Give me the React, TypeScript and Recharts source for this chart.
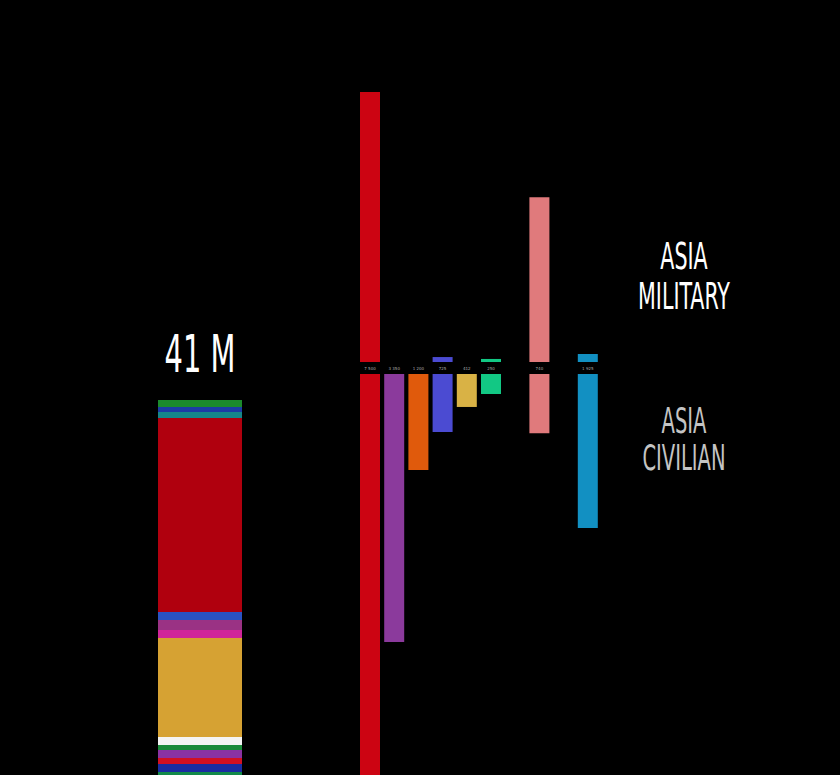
import { BarChart, Bar, XAxis, YAxis, Cell, LabelList } from 'recharts'

// Asia, deaths in thousands
const slots = ['CN', 'ID', 'VN', 'PH', 'KR', 'MY', '', 'JP', '', 'IN']
const military = [3375, 0, 0, 62, 0, 38, 0, 2060, 0, 100]
const civilian = [7500, 3350, 1200, 725, 412, 250, 0, 740, 0, 1925]
const colors = ['#cc0412', '#8b3a9c', '#e05a0c', '#4b4bd2', '#d9b245', '#12c884', '#000', '#e07a7c', '#000', '#1290c2']

// world total stack, top to bottom (thousands)
const stackKeys = ['s0', 's1', 's2', 's3', 's4', 's5', 's6', 's7', 's8', 's9', 's10', 's11', 's12', 's13']
const stackValues = [700, 500, 600, 19400, 800, 1000, 800, 9900, 800, 500, 800, 600, 800, 3800]
const stackColors = ['#1b8a2c', '#1c3ca4', '#16868a', '#b0000e', '#2a52c2', '#9a3284', '#d0249a', '#d6a233',
  '#f4f4f4', '#1a8a3a', '#8a32a2', '#d21022', '#1a2ca2', '#128a4a']

const milData = slots.map((s, i) => ({ slot: s + i, value: military[i] }))
const civData = slots.map((s, i) => ({ slot: s + i, value: civilian[i] }))
const stackRow: Record<string, number | string> = { name: 'world' }
stackKeys.forEach((k, i) => { stackRow[k] = stackValues[i] })

const condensed = '"Liberation Sans Narrow", "DejaVu Sans Condensed", sans-serif'

function Caption({ x, top, lines, size, lh, color, squeeze }:
  { x: number; top: number; lines: string[]; size: number; lh: number; color: string; squeeze: number }) {
  return (
    <div style={{
      position: 'absolute', left: x - 150, top, width: 300, textAlign: 'center',
      fontFamily: condensed, fontSize: size, lineHeight: `${lh}px`, color,
      transform: `scaleX(${squeeze})`, transformOrigin: 'center',
    }}>
      {lines.map(l => <div key={l}>{l}</div>)}
    </div>
  )
}

const tinyLabel = (props: any) => {
  const { x, y, width, height, value } = props
  if (!value) return null
  const top = Math.min(y, y + height)
  return (
    <text x={x + width / 2} y={top - 4} fontSize={4} fill="#aaa" textAnchor="middle" fontFamily="DejaVu Sans">
      {value.toLocaleString('en-US').replace(',', ' ')}
    </text>
  )
}

export default function App() {
  return (
    <div style={{ position: 'absolute', left: 0, top: 0, width: 840, height: 775, background: '#000', overflow: 'hidden' }}>
      <Caption x={200} top={329} lines={['41 M']} size={51} lh={51} color="#fff" squeeze={0.63} />
      <Caption x={684} top={237} lines={['ASIA', 'MILITARY']} size={37} lh={40} color="#fff" squeeze={0.62} />
      <Caption x={684} top={403} lines={['ASIA', 'CIVILIAN']} size={35} lh={37} color="#c4c4c4" squeeze={0.62} />

      {/* world stack */}
      <div style={{ position: 'absolute', left: 158, top: 400 }}>
        <BarChart width={84} height={375} data={[stackRow]} margin={{ top: 0, right: 0, bottom: 0, left: 0 }}
          barCategoryGap={0}>
          <XAxis dataKey="name" hide />
          <YAxis hide reversed domain={[0, 37500]} allowDataOverflow />
          {stackKeys.map((k, i) => (
            <Bar key={k} dataKey={k} stackId="w" fill={stackColors[i]} isAnimationActive={false} />
          ))}
        </BarChart>
      </div>

      {/* military, upward */}
      <div style={{ position: 'absolute', left: 358, top: 0 }}>
        <BarChart width={242} height={362} data={milData} margin={{ top: 0, right: 0, bottom: 0, left: 0 }}
          barSize={20}>
          <XAxis dataKey="slot" hide />
          <YAxis hide domain={[0, 4525]} />
          <Bar dataKey="value" isAnimationActive={false}>
            {milData.map((d, i) => <Cell key={d.slot} fill={colors[i]} />)}
          </Bar>
        </BarChart>
      </div>

      {/* civilian, downward */}
      <div style={{ position: 'absolute', left: 358, top: 362 }}>
        <BarChart width={242} height={413} data={civData} margin={{ top: 12, right: 0, bottom: 0, left: 0 }}
          barSize={20}>
          <XAxis dataKey="slot" hide />
          <YAxis hide reversed domain={[0, 5012]} allowDataOverflow />
          <Bar dataKey="value" isAnimationActive={false}>
            {civData.map((d, i) => <Cell key={d.slot} fill={colors[i]} />)}
            <LabelList dataKey="value" content={tinyLabel} />
          </Bar>
        </BarChart>
      </div>
    </div>
  )
}
